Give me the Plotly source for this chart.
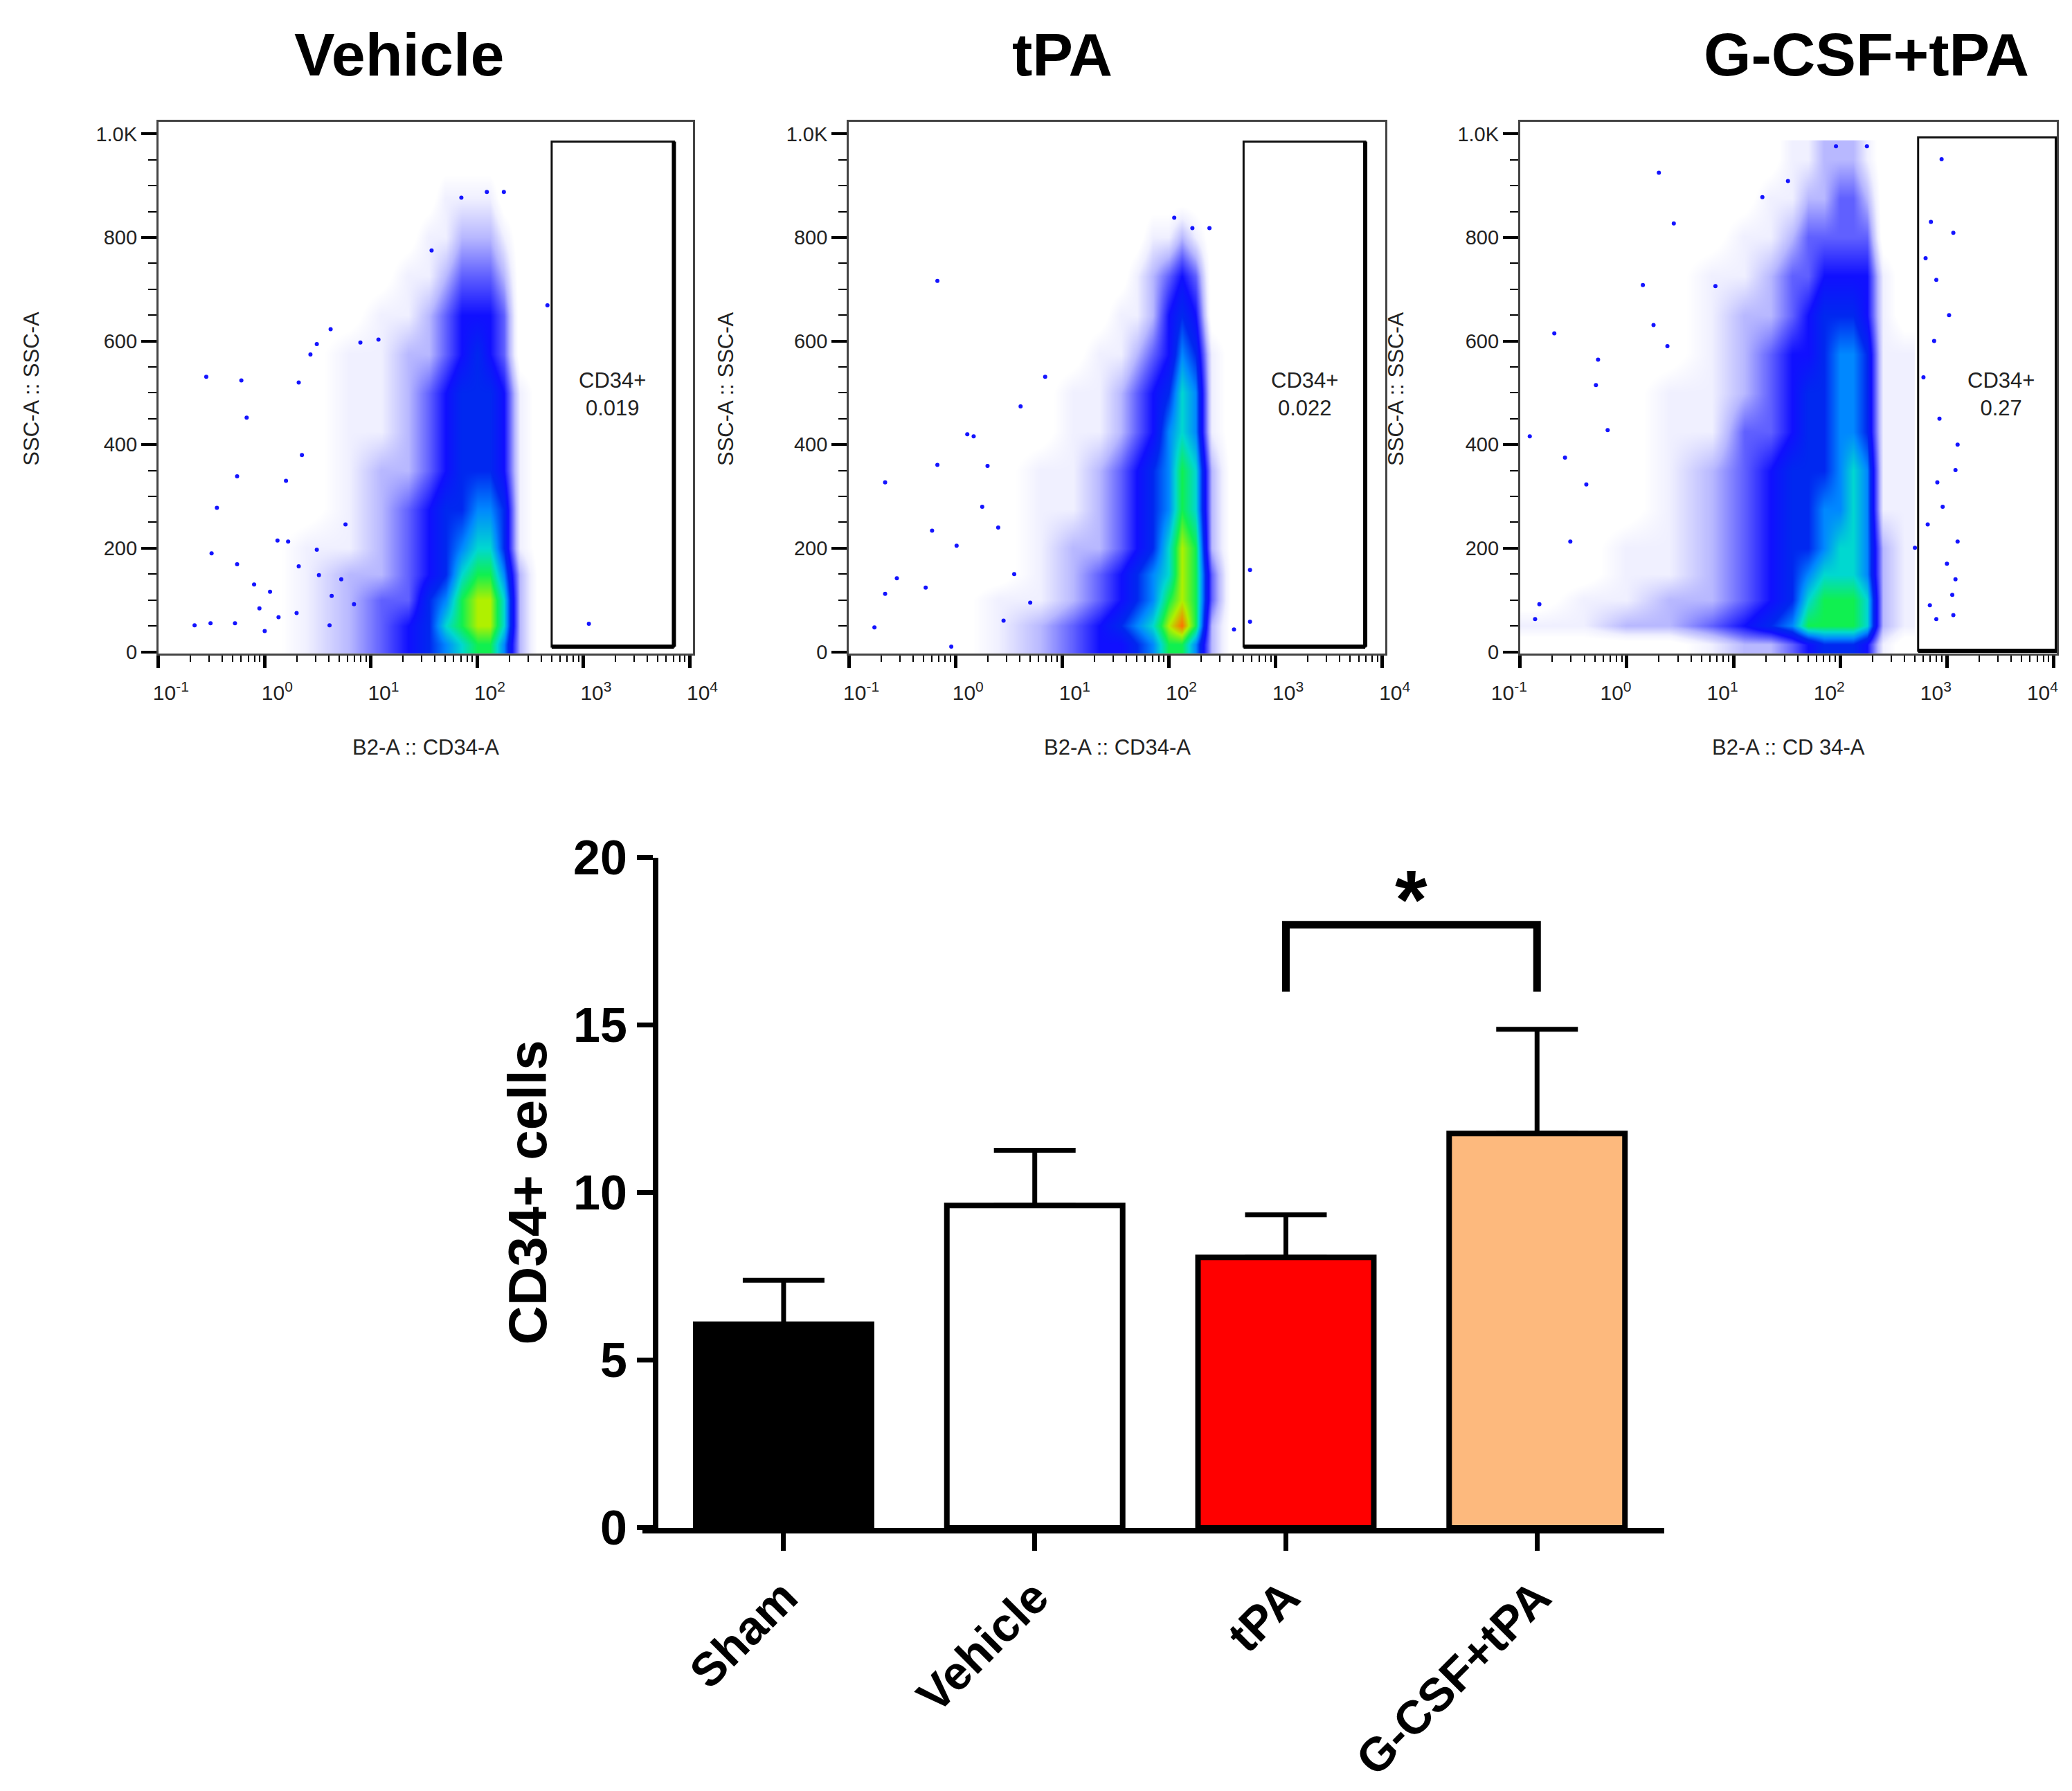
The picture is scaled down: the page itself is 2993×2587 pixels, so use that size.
import math
import plotly.graph_objects as go

FONT = 'Arial, Liberation Sans, sans-serif'

# ---------------- flow cytometry panels ----------------
panel_titles = ['Vehicle', 'tPA', 'G-CSF+tPA']
x_titles = ['B2-A :: CD34-A', 'B2-A :: CD34-A', 'B2-A :: CD 34-A']
y_title = 'SSC-A :: SSC-A'
gate_labels = ['CD34+<br>0.019', 'CD34+<br>0.022', 'CD34+<br>0.27']

# gate rectangles, x in log10(B2-A), y in SSC-A
gate_left = [2.70, 2.70, 2.73]
gate_right = [3.85, 3.84, 4.03]
gate_bottom = [10, 10, 2]
gate_top = [985, 985, 993]
gate_label_x = [3.27, 3.27, 3.51]
gate_label_y = [497, 497, 497]

# density bins (0 = empty, 10 = red)
density_x = [-0.8, -0.4, 0.0, 0.4, 0.8, 1.1, 1.35, 1.55, 1.7, 1.85, 2.0, 2.12, 2.25, 2.4, 2.6]
density_y = [15, 50, 100, 150, 200, 275, 350, 425, 500, 575, 650, 725, 800, 875, 950]

density_vehicle = [
    [0, 0, 0, 1, 2, 3, 4, 5, 6, 7, 8, 8, 6, 2, 0],
    [0, 0, 0, 1, 2, 3, 4, 5, 7, 8, 9, 9, 7, 2, 0],
    [0, 0, 0, 1, 2, 3, 3, 5, 6, 8, 9, 9, 7, 2, 0],
    [0, 0, 0, 1, 2, 2, 3, 4, 5, 7, 8, 8, 6, 2, 0],
    [0, 0, 0, 1, 1, 2, 3, 4, 5, 6, 7, 7, 5, 1, 0],
    [0, 0, 0, 0, 1, 2, 3, 4, 5, 5, 6, 6, 5, 1, 0],
    [0, 0, 0, 0, 1, 2, 2, 3, 4, 5, 5, 5, 4, 1, 0],
    [0, 0, 0, 0, 1, 1, 2, 3, 4, 5, 5, 5, 4, 1, 0],
    [0, 0, 0, 0, 1, 1, 2, 3, 4, 5, 5, 5, 4, 1, 0],
    [0, 0, 0, 0, 1, 1, 2, 2, 3, 4, 5, 4, 3, 0, 0],
    [0, 0, 0, 0, 0, 1, 1, 2, 3, 4, 4, 4, 3, 0, 0],
    [0, 0, 0, 0, 0, 0, 1, 1, 2, 3, 3, 3, 2, 0, 0],
    [0, 0, 0, 0, 0, 0, 0, 1, 1, 2, 2, 2, 1, 0, 0],
    [0, 0, 0, 0, 0, 0, 0, 0, 1, 1, 1, 1, 0, 0, 0],
    [0, 0, 0, 0, 0, 0, 0, 0, 0, 0, 0, 0, 0, 0, 0],
]

density_tpa = [
    [0, 0, 0, 1, 2, 3, 4, 4, 5, 6, 8, 8, 6, 2, 0],
    [0, 0, 0, 1, 2, 3, 4, 5, 6, 7, 9, 10, 8, 2, 0],
    [0, 0, 0, 1, 1, 2, 3, 4, 5, 6, 8, 9, 8, 3, 0],
    [0, 0, 0, 0, 1, 2, 3, 4, 5, 6, 7, 9, 8, 3, 0],
    [0, 0, 0, 0, 1, 2, 2, 3, 4, 5, 7, 9, 8, 2, 0],
    [0, 0, 0, 0, 1, 1, 2, 3, 4, 5, 6, 8, 7, 2, 0],
    [0, 0, 0, 0, 1, 1, 2, 3, 4, 5, 6, 8, 7, 2, 0],
    [0, 0, 0, 0, 0, 1, 1, 2, 3, 4, 6, 7, 6, 1, 0],
    [0, 0, 0, 0, 0, 1, 1, 2, 3, 4, 5, 7, 6, 1, 0],
    [0, 0, 0, 0, 0, 0, 1, 1, 2, 3, 4, 6, 5, 1, 0],
    [0, 0, 0, 0, 0, 0, 0, 1, 1, 2, 4, 5, 4, 0, 0],
    [0, 0, 0, 0, 0, 0, 0, 0, 1, 2, 3, 4, 3, 0, 0],
    [0, 0, 0, 0, 0, 0, 0, 0, 0, 1, 1, 2, 1, 0, 0],
    [0, 0, 0, 0, 0, 0, 0, 0, 0, 0, 0, 0, 0, 0, 0],
    [0, 0, 0, 0, 0, 0, 0, 0, 0, 0, 0, 0, 0, 0, 0],
]

density_gcsf = [
    [0, 0, 0, 0, 1, 2, 2, 3, 4, 5, 5, 5, 4, 1, 0],
    [1, 1, 2, 2, 3, 4, 5, 6, 8, 8, 8, 8, 7, 2, 1],
    [0, 1, 1, 2, 2, 3, 4, 5, 7, 8, 8, 8, 7, 2, 1],
    [0, 0, 1, 1, 2, 3, 4, 5, 6, 7, 7, 7, 6, 2, 1],
    [0, 0, 1, 1, 2, 3, 4, 5, 5, 6, 7, 7, 6, 2, 1],
    [0, 0, 0, 1, 2, 3, 4, 5, 5, 6, 6, 7, 6, 1, 1],
    [0, 0, 0, 1, 2, 3, 4, 5, 5, 5, 6, 7, 6, 1, 1],
    [0, 0, 0, 1, 1, 3, 3, 4, 5, 5, 6, 6, 5, 1, 1],
    [0, 0, 0, 1, 1, 2, 3, 4, 5, 5, 6, 6, 5, 1, 1],
    [0, 0, 0, 0, 1, 2, 3, 4, 4, 5, 6, 6, 5, 1, 1],
    [0, 0, 0, 0, 1, 2, 2, 3, 4, 5, 5, 5, 4, 1, 0],
    [0, 0, 0, 0, 1, 1, 2, 3, 3, 4, 4, 4, 4, 1, 0],
    [0, 0, 0, 0, 0, 1, 1, 2, 3, 3, 3, 3, 3, 0, 0],
    [0, 0, 0, 0, 0, 0, 1, 1, 2, 2, 3, 3, 2, 0, 0],
    [0, 0, 0, 0, 0, 0, 0, 1, 1, 2, 2, 2, 1, 0, 0],
]

# isolated events, x in log10(B2-A), y in SSC-A
sparse_vehicle_x = [-0.66, -0.55, -0.51, -0.50, -0.45, -0.26, -0.22, -0.17, -0.10, 0.00, 0.12, 0.20,
                    0.32, 0.35, 0.43, 0.49, 0.62, 0.90, 1.07, 1.57, 1.85, 2.09, 2.25, 2.66, 3.05,
                    -0.26, -0.28, -0.05, 0.05, 0.13, 0.30, 0.32, 0.22, 0.49, 0.51, 0.63, 0.61, 0.76, 0.72, 0.84]
sparse_vehicle_y = [51, 531, 55, 190, 278, 339, 524, 452, 130, 40, 215, 330,
                    520, 380, 574, 594, 623, 597, 603, 775, 877, 888, 888, 669, 54,
                    169, 55, 84, 116, 67, 75, 165, 213, 197, 148, 108, 51, 246, 140, 92]

sparse_tpa_x = [-0.17, -0.66, -0.76, -0.55, -0.66, -0.28, -0.22, -0.17, 0.11, 0.17, 0.30, 0.01, -0.04,
                0.61, 0.84, 2.05, 2.22, 2.38, 2.76, 2.76, 2.61, 0.45, 0.55, 0.70, 0.40, 0.25]
sparse_tpa_y = [716, 327, 47, 142, 112, 124, 234, 361, 420, 416, 359, 205, 10,
                474, 531, 838, 818, 818, 158, 58, 43, 60, 150, 95, 240, 280]

sparse_gcsf_x = [-0.91, -0.68, -0.58, -0.38, -0.27, -0.29, -0.18, -0.53, -0.86, -0.82, 0.30, 0.44,
                 0.15, 0.25, 0.38, 0.83, 1.51, 1.27, 1.96, 2.25, 2.95, 3.06, 2.90, 2.85, 2.78, 2.91,
                 3.06, 2.90, 3.10, 3.08, 2.82, 2.70, 3.08, 2.88, 2.93, 3.00, 3.05, 2.84, 2.96, 3.10,
                 2.80, 3.02]
sparse_gcsf_y = [416, 615, 375, 323, 564, 515, 428, 213, 63, 92, 925, 827,
                 708, 631, 590, 706, 909, 878, 976, 976, 951, 809, 718, 830, 530, 327,
                 71, 63, 213, 140, 246, 201, 351, 600, 450, 170, 110, 90, 280, 400,
                 760, 650]

densities = [density_vehicle, density_tpa, density_gcsf]
sparse_x = [sparse_vehicle_x, sparse_tpa_x, sparse_gcsf_x]
sparse_y = [sparse_vehicle_y, sparse_tpa_y, sparse_gcsf_y]

# ---------------- bar chart ----------------
groups = ['Sham', 'Vehicle', 'tPA', 'G-CSF+tPA']
means = [6.08, 9.62, 8.07, 11.77]
sem = [1.31, 1.65, 1.27, 3.11]
bar_colors = ['#000000', '#ffffff', '#ff0000', '#fdb97d']
sig_pair = ('tPA', 'G-CSF+tPA')
sig_top = 18.0
sig_leg = 16.0
sig_text = '*'

pseudo_colors = [
    [0.0, '#ffffff'], [0.04, '#ffffff'], [0.1, '#f0f0ff'], [0.2, '#b8b8ff'],
    [0.3, '#6060ff'], [0.4, '#1010ff'], [0.5, '#0028f0'], [0.6, '#0088ff'],
    [0.7, '#00d8d0'], [0.8, '#10f050'], [0.9, '#b0f000'], [1.0, '#ff7000'],
]

x_domains = [[0.0738, 0.3318], [0.407, 0.666], [0.731, 0.990]]
flow_y_domain = [0.638, 0.935]
title_x = [0.190, 0.510, 0.898]
ytitle_x = [0.0127, 0.3476, 0.671]
xlabel_shift = [18, 18, -16]

fig = go.Figure()
layout = {}
shapes = []
annotations = []

decades = [-1, 0, 1, 2, 3, 4]
minor_vals = [math.log10(k) + d for d in range(-1, 4) for k in range(2, 10)]


def label(x, y, text, size, xref='paper', yref='paper', angle=0, bold=False, color='#222'):
    return dict(xref=xref, yref=yref, x=x, y=y, text=text, showarrow=False,
                xanchor='center', yanchor='middle', textangle=angle,
                font=dict(family=FONT, size=size, color=color,
                          weight='bold' if bold else 'normal'))


for i in range(3):
    n = '' if i == 0 else str(i + 1)
    xa, ya = 'x' + n, 'y' + n
    fig.add_trace(go.Heatmap(
        x=density_x, y=density_y, z=densities[i], xaxis=xa, yaxis=ya,
        zmin=0, zmax=10, colorscale=pseudo_colors, zsmooth='best',
        showscale=False, hoverinfo='skip'))
    fig.add_trace(go.Scatter(
        x=sparse_x[i], y=sparse_y[i], xaxis=xa, yaxis=ya, mode='markers',
        marker=dict(size=6, color='#1414ff'), hoverinfo='skip', showlegend=False))

    layout['xaxis' + n] = dict(
        domain=x_domains[i], anchor=ya, range=[-1, 4.03], automargin=False,
        tickmode='array', tickvals=decades,
        ticktext=['10<sup>%d</sup>' % d for d in decades],
        ticks='outside', ticklen=18, tickwidth=5, tickcolor='#000',
        ticklabelshift=xlabel_shift[i], ticklabelstandoff=10, ticklabeloverflow='allow',
        minor=dict(tickmode='array', tickvals=minor_vals, ticks='outside',
                   ticklen=9, tickwidth=2, tickcolor='#000'),
        showline=True, linewidth=3, linecolor='#444', mirror=True,
        showgrid=False, zeroline=False,
        tickfont=dict(family=FONT, size=30, color='#222'))
    layout['yaxis' + n] = dict(
        domain=flow_y_domain, anchor=xa, range=[-4, 1023], automargin=False,
        tickmode='array', tickvals=[0, 200, 400, 600, 800, 1000],
        ticktext=['0', '200', '400', '600', '800', '1.0K'], ticklabeloverflow='allow',
        ticks='outside', ticklen=22, tickwidth=4, tickcolor='#000',
        minor=dict(dtick=50, ticks='outside', ticklen=12, tickwidth=2, tickcolor='#000'),
        showline=True, linewidth=3, linecolor='#444', mirror=True,
        showgrid=False, zeroline=False,
        tickfont=dict(family=FONT, size=29, color='#222'))

    # gate box, drawn with a heavier right and bottom edge like the FlowJo export
    shapes.append(dict(type='rect', xref=xa, yref=ya,
                       x0=gate_left[i], x1=gate_right[i], y0=gate_bottom[i], y1=gate_top[i],
                       line=dict(color='#111', width=3), layer='above'))
    shapes.append(dict(type='line', xref=xa, yref=ya,
                       x0=gate_right[i], x1=gate_right[i], y0=gate_bottom[i], y1=gate_top[i],
                       line=dict(color='#000', width=6), layer='above'))
    shapes.append(dict(type='line', xref=xa, yref=ya,
                       x0=gate_left[i], x1=gate_right[i], y0=gate_bottom[i], y1=gate_bottom[i],
                       line=dict(color='#000', width=6), layer='above'))
    annotations.append(label(gate_label_x[i], gate_label_y[i], gate_labels[i], 31, xref=xa, yref=ya))
    annotations.append(label(title_x[i], 0.9726, panel_titles[i], 88, bold=True, color='#000'))
    annotations.append(label(sum(x_domains[i]) / 2, 0.586, x_titles[i], 31))
    annotations.append(label(ytitle_x[i], 0.786, y_title, 31, angle=-90))

# bar chart
fig.add_trace(go.Bar(
    x=groups, y=means, xaxis='x4', yaxis='y4', width=0.7,
    marker=dict(color=bar_colors, line=dict(color='#000', width=8)),
    error_y=dict(type='data', array=sem, arrayminus=[0] * len(sem), symmetric=False,
                 color='#000', thickness=7, width=59),
    showlegend=False, hoverinfo='skip'))

layout['xaxis4'] = dict(
    domain=[0.3074, 0.8006], anchor='y4', range=[-0.562, 3.507], automargin=False,
    type='category', categoryorder='array', categoryarray=groups,
    showline=True, linewidth=8, linecolor='#000', showgrid=False, zeroline=False,
    ticks='outside', ticklen=25, tickwidth=7, tickcolor='#000', tickangle=-45,
    tickfont=dict(family=FONT, size=68, color='#000', weight='bold'))
layout['yaxis4'] = dict(
    domain=[0.15, 0.5242], anchor='free', position=0.3137, range=[0, 20], automargin=False,
    tickvals=[0, 5, 10, 15, 20], showline=True, linewidth=8, linecolor='#000',
    showgrid=False, zeroline=False, ticks='outside', ticklen=23, tickwidth=7,
    tickcolor='#000', tickfont=dict(family=FONT, size=70, color='#000', weight='bold'))

i0, i1 = groups.index(sig_pair[0]), groups.index(sig_pair[1])
shapes.append(dict(type='path', xref='x4', yref='y4',
                   path='M %d,%s L %d,%s L %d,%s L %d,%s' % (i0, sig_leg, i0, sig_top,
                                                             i1, sig_top, i1, sig_leg),
                   line=dict(color='#000', width=11)))
annotations.append(label((i0 + i1) / 2, sig_top + 0.75, sig_text, 120,
                         xref='x4', yref='y4', bold=True, color='#000'))
annotations.append(label(0.252, 0.3374, 'CD34+ cells', 78, angle=-90, bold=True, color='#000'))

fig.update_layout(width=2993, height=2587, margin=dict(l=0, r=0, t=0, b=0, autoexpand=False),
                  paper_bgcolor='#fff', plot_bgcolor='#fff', shapes=shapes,
                  annotations=annotations, showlegend=False, **layout)
fig.write_html('out.html')
